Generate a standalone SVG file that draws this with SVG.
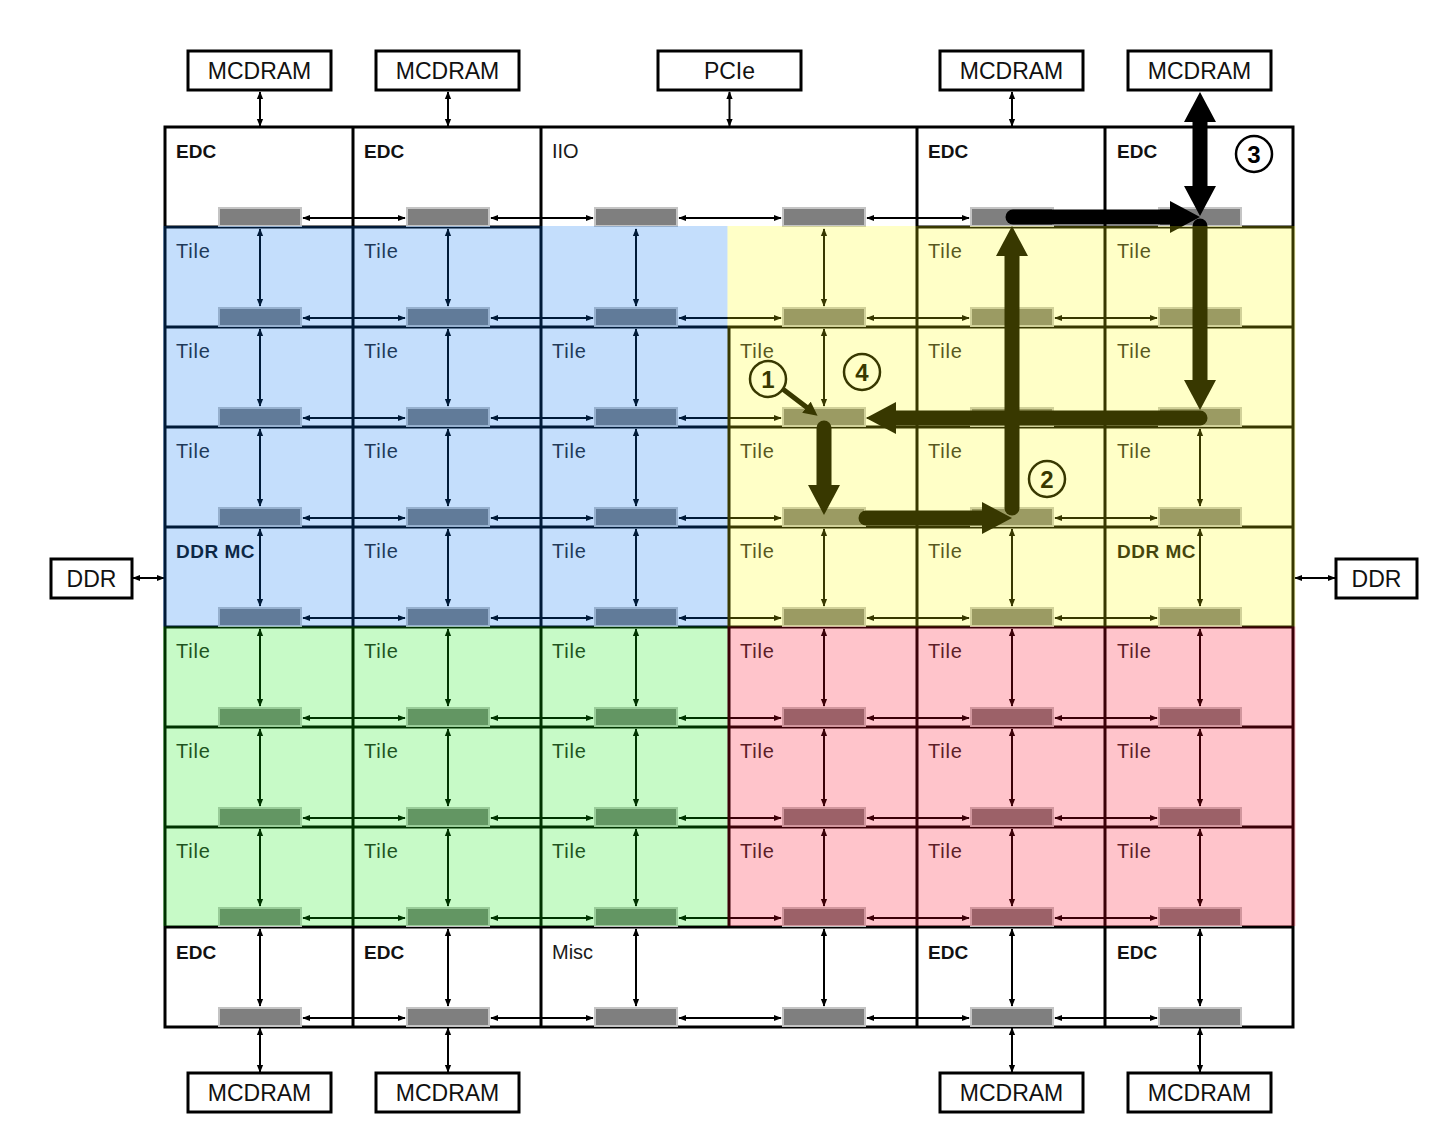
<svg xmlns="http://www.w3.org/2000/svg" xmlns:xlink="http://www.w3.org/1999/xlink" width="1440" height="1137" viewBox="0 0 1440 1137">
<style>
.grid{stroke:#000;stroke-width:3;fill:none}
.box{fill:#fff;stroke:#000;stroke-width:3}
.lbl{font-family:"Liberation Sans",Arial,sans-serif;font-size:23px;fill:#111;text-anchor:middle}
.tile{font-family:"Liberation Sans",Arial,sans-serif;font-size:20px;fill:#2a2a2a;letter-spacing:0.8px}
.bold{font-family:"Liberation Sans",Arial,sans-serif;font-size:19px;font-weight:bold;fill:#111}
.reg{font-family:"Liberation Sans",Arial,sans-serif;font-size:20px;fill:#1a1a1a}
.ln{stroke:#000;stroke-width:2;fill:none;marker-start:url(#ah);marker-end:url(#ah)}
.thick{stroke:#000;stroke-width:15;stroke-linecap:round;fill:none;marker-end:url(#big)}
.num{font-family:"Liberation Sans",Arial,sans-serif;font-size:24px;font-weight:bold;fill:#000;text-anchor:middle}
.circ{fill:none;stroke:#000;stroke-width:2.5}
</style>
<defs>
<marker id="ah" viewBox="0 0 10 10" refX="9" refY="5" markerWidth="8" markerHeight="8" markerUnits="userSpaceOnUse" orient="auto-start-reverse"><path d="M0,1 L10,5 L0,9 z" fill="#000"/></marker>
<marker id="big" viewBox="0 0 30 32" refX="10" refY="16" markerWidth="30" markerHeight="32" markerUnits="userSpaceOnUse" orient="auto-start-reverse"><path d="M0,0 L30,16 L0,32 z" fill="#000"/></marker>
<marker id="mid" viewBox="0 0 14 14" refX="4" refY="7" markerWidth="14" markerHeight="14" markerUnits="userSpaceOnUse" orient="auto"><path d="M0,0 L14,7 L0,14 z" fill="#000"/></marker>
<rect id="r" x="-41" y="-19" width="82" height="18" fill="#7f7f7f" stroke="#c4c4c4" stroke-width="2"/>
</defs>
<rect width="1440" height="1137" fill="#fff"/>

<g id="grid">
<rect class="grid" x="165" y="127" width="1128" height="900"/>
<path class="grid" d="M353,127V1027M541,127V1027M917,127V1027M1105,127V1027M729,327V927M165,227H541M917,227H1293M165,327H1293M165,427H1293M165,527H1293M165,627H1293M165,727H1293M165,827H1293M165,927H1293"/>
</g>

<g id="external-nodes">
<g id="mcdram-t1"><rect class="box" x="188" y="51" width="143" height="39"/><text class="lbl" x="259.5" y="79">MCDRAM</text></g>
<g id="mcdram-t2"><rect class="box" x="376" y="51" width="143" height="39"/><text class="lbl" x="447.5" y="79">MCDRAM</text></g>
<g id="pcie"><rect class="box" x="658" y="51" width="143" height="39"/><text class="lbl" x="729.5" y="79">PCIe</text></g>
<g id="mcdram-t3"><rect class="box" x="940" y="51" width="143" height="39"/><text class="lbl" x="1011.5" y="79">MCDRAM</text></g>
<g id="mcdram-t4"><rect class="box" x="1128" y="51" width="143" height="39"/><text class="lbl" x="1199.5" y="79">MCDRAM</text></g>
<g id="mcdram-b1"><rect class="box" x="188" y="1073" width="143" height="39"/><text class="lbl" x="259.5" y="1101">MCDRAM</text></g>
<g id="mcdram-b2"><rect class="box" x="376" y="1073" width="143" height="39"/><text class="lbl" x="447.5" y="1101">MCDRAM</text></g>
<g id="mcdram-b3"><rect class="box" x="940" y="1073" width="143" height="39"/><text class="lbl" x="1011.5" y="1101">MCDRAM</text></g>
<g id="mcdram-b4"><rect class="box" x="1128" y="1073" width="143" height="39"/><text class="lbl" x="1199.5" y="1101">MCDRAM</text></g>
<g id="ddr-l"><rect class="box" x="51" y="559" width="81" height="39"/><text class="lbl" x="91.5" y="587">DDR</text></g>
<g id="ddr-r"><rect class="box" x="1336" y="559" width="81" height="39"/><text class="lbl" x="1376.5" y="587">DDR</text></g>
</g>

<g id="cell-labels">
<text class="bold" x="176" y="158">EDC</text>
<text class="bold" x="364" y="158">EDC</text>
<text class="reg" x="552" y="158">IIO</text>
<text class="bold" x="928" y="158">EDC</text>
<text class="bold" x="1117" y="158">EDC</text>

<text class="tile" x="176" y="258">Tile</text>
<text class="tile" x="364" y="258">Tile</text>
<text class="tile" x="928" y="258">Tile</text>
<text class="tile" x="1117" y="258">Tile</text>

<text class="tile" x="176" y="358">Tile</text>
<text class="tile" x="364" y="358">Tile</text>
<text class="tile" x="552" y="358">Tile</text>
<text class="tile" x="740" y="358">Tile</text>
<text class="tile" x="928" y="358">Tile</text>
<text class="tile" x="1117" y="358">Tile</text>

<text class="tile" x="176" y="458">Tile</text>
<text class="tile" x="364" y="458">Tile</text>
<text class="tile" x="552" y="458">Tile</text>
<text class="tile" x="740" y="458">Tile</text>
<text class="tile" x="928" y="458">Tile</text>
<text class="tile" x="1117" y="458">Tile</text>

<text class="bold" x="176" y="558" letter-spacing="0.5">DDR MC</text>
<text class="tile" x="364" y="558">Tile</text>
<text class="tile" x="552" y="558">Tile</text>
<text class="tile" x="740" y="558">Tile</text>
<text class="tile" x="928" y="558">Tile</text>
<text class="bold" x="1117" y="558" letter-spacing="0.5">DDR MC</text>

<text class="tile" x="176" y="658">Tile</text>
<text class="tile" x="364" y="658">Tile</text>
<text class="tile" x="552" y="658">Tile</text>
<text class="tile" x="740" y="658">Tile</text>
<text class="tile" x="928" y="658">Tile</text>
<text class="tile" x="1117" y="658">Tile</text>

<text class="tile" x="176" y="758">Tile</text>
<text class="tile" x="364" y="758">Tile</text>
<text class="tile" x="552" y="758">Tile</text>
<text class="tile" x="740" y="758">Tile</text>
<text class="tile" x="928" y="758">Tile</text>
<text class="tile" x="1117" y="758">Tile</text>

<text class="tile" x="176" y="858">Tile</text>
<text class="tile" x="364" y="858">Tile</text>
<text class="tile" x="552" y="858">Tile</text>
<text class="tile" x="740" y="858">Tile</text>
<text class="tile" x="928" y="858">Tile</text>
<text class="tile" x="1117" y="858">Tile</text>

<text class="bold" x="176" y="959">EDC</text>
<text class="bold" x="364" y="959">EDC</text>
<text class="reg" x="552" y="959">Misc</text>
<text class="bold" x="928" y="959">EDC</text>
<text class="bold" x="1117" y="959">EDC</text>
</g>

<g id="connectors">
<line class="ln" x1="260" y1="92" x2="260" y2="126"/>
<line class="ln" x1="448" y1="92" x2="448" y2="126"/>
<line class="ln" x1="729.5" y1="92" x2="729.5" y2="126"/>
<line class="ln" x1="1012" y1="92" x2="1012" y2="126"/>
<line class="ln" x1="260" y1="1028" x2="260" y2="1072"/>
<line class="ln" x1="448" y1="1028" x2="448" y2="1072"/>
<line class="ln" x1="1012" y1="1028" x2="1012" y2="1072"/>
<line class="ln" x1="1200" y1="1028" x2="1200" y2="1072"/>
<line class="ln" x1="133" y1="578" x2="164" y2="578"/>
<line class="ln" x1="1295" y1="578" x2="1335" y2="578"/>

<line class="ln" x1="303" y1="218" x2="405" y2="218"/><line class="ln" x1="491" y1="218" x2="593" y2="218"/><line class="ln" x1="679" y1="218" x2="781" y2="218"/><line class="ln" x1="867" y1="218" x2="969" y2="218"/><line class="ln" x1="1055" y1="218" x2="1157" y2="218"/>
<line class="ln" x1="303" y1="318" x2="405" y2="318"/><line class="ln" x1="491" y1="318" x2="593" y2="318"/><line class="ln" x1="679" y1="318" x2="781" y2="318"/><line class="ln" x1="867" y1="318" x2="969" y2="318"/><line class="ln" x1="1055" y1="318" x2="1157" y2="318"/>
<line class="ln" x1="303" y1="418" x2="405" y2="418"/><line class="ln" x1="491" y1="418" x2="593" y2="418"/><line class="ln" x1="679" y1="418" x2="781" y2="418"/><line class="ln" x1="867" y1="418" x2="969" y2="418"/><line class="ln" x1="1055" y1="418" x2="1157" y2="418"/>
<line class="ln" x1="303" y1="518" x2="405" y2="518"/><line class="ln" x1="491" y1="518" x2="593" y2="518"/><line class="ln" x1="679" y1="518" x2="781" y2="518"/><line class="ln" x1="867" y1="518" x2="969" y2="518"/><line class="ln" x1="1055" y1="518" x2="1157" y2="518"/>
<line class="ln" x1="303" y1="618" x2="405" y2="618"/><line class="ln" x1="491" y1="618" x2="593" y2="618"/><line class="ln" x1="679" y1="618" x2="781" y2="618"/><line class="ln" x1="867" y1="618" x2="969" y2="618"/><line class="ln" x1="1055" y1="618" x2="1157" y2="618"/>
<line class="ln" x1="303" y1="718" x2="405" y2="718"/><line class="ln" x1="491" y1="718" x2="593" y2="718"/><line class="ln" x1="679" y1="718" x2="781" y2="718"/><line class="ln" x1="867" y1="718" x2="969" y2="718"/><line class="ln" x1="1055" y1="718" x2="1157" y2="718"/>
<line class="ln" x1="303" y1="818" x2="405" y2="818"/><line class="ln" x1="491" y1="818" x2="593" y2="818"/><line class="ln" x1="679" y1="818" x2="781" y2="818"/><line class="ln" x1="867" y1="818" x2="969" y2="818"/><line class="ln" x1="1055" y1="818" x2="1157" y2="818"/>
<line class="ln" x1="303" y1="918" x2="405" y2="918"/><line class="ln" x1="491" y1="918" x2="593" y2="918"/><line class="ln" x1="679" y1="918" x2="781" y2="918"/><line class="ln" x1="867" y1="918" x2="969" y2="918"/><line class="ln" x1="1055" y1="918" x2="1157" y2="918"/>
<line class="ln" x1="303" y1="1018" x2="405" y2="1018"/><line class="ln" x1="491" y1="1018" x2="593" y2="1018"/><line class="ln" x1="679" y1="1018" x2="781" y2="1018"/><line class="ln" x1="867" y1="1018" x2="969" y2="1018"/><line class="ln" x1="1055" y1="1018" x2="1157" y2="1018"/>

<line class="ln" x1="260" y1="229" x2="260" y2="306"/><line class="ln" x1="448" y1="229" x2="448" y2="306"/><line class="ln" x1="636" y1="229" x2="636" y2="306"/><line class="ln" x1="824" y1="229" x2="824" y2="306"/><line class="ln" x1="1012" y1="229" x2="1012" y2="306"/><line class="ln" x1="1200" y1="229" x2="1200" y2="306"/>
<line class="ln" x1="260" y1="329" x2="260" y2="406"/><line class="ln" x1="448" y1="329" x2="448" y2="406"/><line class="ln" x1="636" y1="329" x2="636" y2="406"/><line class="ln" x1="824" y1="329" x2="824" y2="406"/><line class="ln" x1="1012" y1="329" x2="1012" y2="406"/><line class="ln" x1="1200" y1="329" x2="1200" y2="406"/>
<line class="ln" x1="260" y1="429" x2="260" y2="506"/><line class="ln" x1="448" y1="429" x2="448" y2="506"/><line class="ln" x1="636" y1="429" x2="636" y2="506"/><line class="ln" x1="824" y1="429" x2="824" y2="506"/><line class="ln" x1="1012" y1="429" x2="1012" y2="506"/><line class="ln" x1="1200" y1="429" x2="1200" y2="506"/>
<line class="ln" x1="260" y1="529" x2="260" y2="606"/><line class="ln" x1="448" y1="529" x2="448" y2="606"/><line class="ln" x1="636" y1="529" x2="636" y2="606"/><line class="ln" x1="824" y1="529" x2="824" y2="606"/><line class="ln" x1="1012" y1="529" x2="1012" y2="606"/><line class="ln" x1="1200" y1="529" x2="1200" y2="606"/>
<line class="ln" x1="260" y1="629" x2="260" y2="706"/><line class="ln" x1="448" y1="629" x2="448" y2="706"/><line class="ln" x1="636" y1="629" x2="636" y2="706"/><line class="ln" x1="824" y1="629" x2="824" y2="706"/><line class="ln" x1="1012" y1="629" x2="1012" y2="706"/><line class="ln" x1="1200" y1="629" x2="1200" y2="706"/>
<line class="ln" x1="260" y1="729" x2="260" y2="806"/><line class="ln" x1="448" y1="729" x2="448" y2="806"/><line class="ln" x1="636" y1="729" x2="636" y2="806"/><line class="ln" x1="824" y1="729" x2="824" y2="806"/><line class="ln" x1="1012" y1="729" x2="1012" y2="806"/><line class="ln" x1="1200" y1="729" x2="1200" y2="806"/>
<line class="ln" x1="260" y1="829" x2="260" y2="906"/><line class="ln" x1="448" y1="829" x2="448" y2="906"/><line class="ln" x1="636" y1="829" x2="636" y2="906"/><line class="ln" x1="824" y1="829" x2="824" y2="906"/><line class="ln" x1="1012" y1="829" x2="1012" y2="906"/><line class="ln" x1="1200" y1="829" x2="1200" y2="906"/>
<line class="ln" x1="260" y1="929" x2="260" y2="1006"/><line class="ln" x1="448" y1="929" x2="448" y2="1006"/><line class="ln" x1="636" y1="929" x2="636" y2="1006"/><line class="ln" x1="824" y1="929" x2="824" y2="1006"/><line class="ln" x1="1012" y1="929" x2="1012" y2="1006"/><line class="ln" x1="1200" y1="929" x2="1200" y2="1006"/>
</g>

<g id="routers">
<use href="#r" x="260" y="227"/><use href="#r" x="448" y="227"/><use href="#r" x="636" y="227"/><use href="#r" x="824" y="227"/><use href="#r" x="1012" y="227"/><use href="#r" x="1200" y="227"/>
<use href="#r" x="260" y="327"/><use href="#r" x="448" y="327"/><use href="#r" x="636" y="327"/><use href="#r" x="824" y="327"/><use href="#r" x="1012" y="327"/><use href="#r" x="1200" y="327"/>
<use href="#r" x="260" y="427"/><use href="#r" x="448" y="427"/><use href="#r" x="636" y="427"/><use href="#r" x="824" y="427"/><use href="#r" x="1012" y="427"/><use href="#r" x="1200" y="427"/>
<use href="#r" x="260" y="527"/><use href="#r" x="448" y="527"/><use href="#r" x="636" y="527"/><use href="#r" x="824" y="527"/><use href="#r" x="1012" y="527"/><use href="#r" x="1200" y="527"/>
<use href="#r" x="260" y="627"/><use href="#r" x="448" y="627"/><use href="#r" x="636" y="627"/><use href="#r" x="824" y="627"/><use href="#r" x="1012" y="627"/><use href="#r" x="1200" y="627"/>
<use href="#r" x="260" y="727"/><use href="#r" x="448" y="727"/><use href="#r" x="636" y="727"/><use href="#r" x="824" y="727"/><use href="#r" x="1012" y="727"/><use href="#r" x="1200" y="727"/>
<use href="#r" x="260" y="827"/><use href="#r" x="448" y="827"/><use href="#r" x="636" y="827"/><use href="#r" x="824" y="827"/><use href="#r" x="1012" y="827"/><use href="#r" x="1200" y="827"/>
<use href="#r" x="260" y="927"/><use href="#r" x="448" y="927"/><use href="#r" x="636" y="927"/><use href="#r" x="824" y="927"/><use href="#r" x="1012" y="927"/><use href="#r" x="1200" y="927"/>
<use href="#r" x="260" y="1027"/><use href="#r" x="448" y="1027"/><use href="#r" x="636" y="1027"/><use href="#r" x="824" y="1027"/><use href="#r" x="1012" y="1027"/><use href="#r" x="1200" y="1027"/>
</g>

<g id="path-arrows">
<line x1="784" y1="390" x2="809.6" y2="409.6" stroke="#000" stroke-width="5" stroke-linecap="round" marker-end="url(#mid)"/>
<line class="thick" x1="824" y1="428" x2="824" y2="495"/>
<line class="thick" x1="866" y1="518" x2="992" y2="518"/>
<line class="thick" x1="1012" y1="508" x2="1012" y2="246"/>
<line class="thick" x1="1013" y1="217" x2="1180" y2="217"/>
<line class="thick" x1="1200" y1="112" x2="1200" y2="196" stroke-width="16" stroke-linecap="butt" marker-start="url(#big)"/>
<line class="thick" x1="1200" y1="226" x2="1200" y2="390"/>
<line class="thick" x1="1200" y1="418" x2="886" y2="418"/>
</g>

<g id="step-labels">
<g id="step1"><circle class="circ" cx="768" cy="379" r="18"/><text class="num" x="768" y="387.5">1</text></g>
<g id="step2"><circle class="circ" cx="1047" cy="479" r="18"/><text class="num" x="1047" y="487.5">2</text></g>
<g id="step3"><circle class="circ" cx="1254" cy="154" r="18"/><text class="num" x="1254" y="162.5">3</text></g>
<g id="step4"><circle class="circ" cx="862" cy="372" r="18"/><text class="num" x="862" y="380.5">4</text></g>
</g>

<g id="quadrant-overlays">
<rect x="163" y="226" width="564.5" height="400.5" fill="#0070f0" fill-opacity="0.23"/>
<rect x="163" y="626.5" width="564.5" height="299.5" fill="#00e600" fill-opacity="0.22"/>
<rect x="727.5" y="226" width="568" height="400.5" fill="#ffff00" fill-opacity="0.22"/>
<rect x="727.5" y="626.5" width="568" height="299.5" fill="#ff001e" fill-opacity="0.23"/>
</g>
</svg>
